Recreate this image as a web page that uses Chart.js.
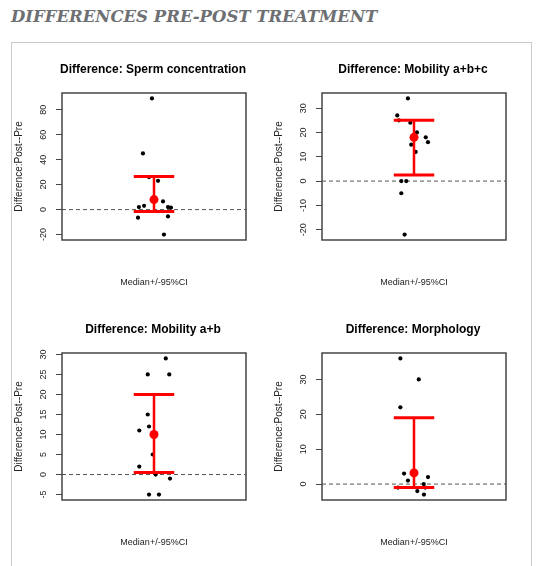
<!DOCTYPE html>
<html>
<head>
<meta charset="utf-8">
<script src="https://cdn.jsdelivr.net/npm/chart.js"></script>
<style>
  html, body { margin:0; padding:0; background:#fff; }
  body { width:537px; height:566px; overflow:hidden; position:relative; }
  #page-title { position:absolute; left:11px; top:6.5px; font-family:"DejaVu Serif", serif; font-style:italic; font-weight:bold;
                font-size:16.5px; line-height:20px; color:#6d6f73; white-space:nowrap; }
  #frame { position:absolute; left:11px; top:42px; width:519px; height:600px; border:1px solid #cbcbcb; border-bottom:none; }
  canvas { position:absolute; }
</style>
</head>
<body>
<div id="page-title">DIFFERENCES PRE-POST TREATMENT</div>
<div id="frame"></div>
<canvas id="c1" width="306" height="260" style="left:0px;top:40px;width:306px;height:260px"></canvas>
<canvas id="c2" width="306" height="260" style="left:260px;top:40px;width:306px;height:260px"></canvas>
<canvas id="c3" width="306" height="260" style="left:0px;top:300px;width:306px;height:260px"></canvas>
<canvas id="c4" width="306" height="260" style="left:260px;top:300px;width:306px;height:260px"></canvas>
<script>
// ---------- data ----------
const categories = ['Difference: Sperm concentration', 'Difference: Mobility a+b+c', 'Difference: Mobility a+b', 'Difference: Morphology'];
const yAxisTitle = 'Difference:Post--Pre';
const xAxisTitle = 'Median+/-95%CI';

// jittered horizontal positions (group centre = 1) and differences
const spermJitter = [0.989, 0.94, 0.973, 1.022, 1.049, 0.918, 0.946, 1.076, 1.092, 0.913, 1.076, 1.054];
const spermDiff   = [89, 45, 26, 23, 6.5, 2, 3, 2, 1.5, -6.5, -5.5, -20];
const spermStats  = [8, -1.5, 26.5];          // median, lower 95% CI, upper 95% CI
const spermTicks  = [-20, 0, 20, 40, 60, 80];

const mobAbcJitter = [0.967, 0.909, 0.918, 0.98, 1.016, 1.064, 1.076, 0.985, 1.009, 0.931, 0.958, 0.931, 0.949];
const mobAbcDiff   = [34, 27, 25, 24, 20, 18, 16, 15, 12, 0, 0, -5, -22];
const mobAbcStats  = [18, 2.5, 25];
const mobAbcTicks  = [-20, -10, 0, 10, 20, 30];

const mobAbJitter = [1.064, 0.966, 1.083, 0.966, 0.973, 0.92, 0.993, 0.92, 1.009, 1.087, 0.973, 1.027];
const mobAbDiff   = [29, 25, 25, 15, 12, 11, 5, 2, 0, -1, -5, -5];
const mobAbStats  = [10, 0.5, 20];
const mobAbTicks  = [-5, 0, 5, 10, 15, 20, 25, 30];

const morphJitter = [0.926, 1.026, 0.926, 0.946, 0.967, 1.076, 1.053, 0.913, 1.061, 1.018, 1.054];
const morphDiff   = [36, 30, 22, 3, 1, 2, 0, -1, -1, -2, -3];
const morphStats  = [3.2, -1, 19];
const morphTicks  = [0, 10, 20, 30];

// ---------- style ----------
const FONT = "'Liberation Sans', Arial, sans-serif";
const RED = '#ff0000';
const CAP = 0.11;           // half width of the CI caps, in x units
Chart.defaults.font.family = FONT;

const boxPlugin = {
  id: 'rbox',
  afterDraw(chart) {
    const { ctx, chartArea: a } = chart;
    ctx.save();
    ctx.strokeStyle = '#454545';
    ctx.lineWidth = 1.5;
    ctx.strokeRect(a.left, a.top, a.right - a.left, a.bottom - a.top);
    ctx.restore();
  }
};

function makeChart(id, title, xs, ys, stats, ticks, tickPad) {
  const [med, lo, hi] = stats;
  const dMin = Math.min(...ys), dMax = Math.max(...ys);
  const ext = (dMax - dMin) * 0.04;
  return new Chart(document.getElementById(id), {
    type: 'scatter',
    data: {
      datasets: [
        { label: 'Median', data: [{ x: 1, y: med }], pointRadius: 4.5, backgroundColor: RED, borderWidth: 0 },
        { label: 'Upper 95% CI', type: 'line', data: [{ x: 1 - CAP, y: hi }, { x: 1 + CAP, y: hi }],
          borderColor: RED, borderWidth: 3, pointRadius: 0, borderCapStyle: 'butt' },
        { label: 'Lower 95% CI', type: 'line', data: [{ x: 1 - CAP, y: lo }, { x: 1 + CAP, y: lo }],
          borderColor: RED, borderWidth: 3, pointRadius: 0, borderCapStyle: 'butt' },
        { label: '95% CI', type: 'line', data: [{ x: 1, y: lo }, { x: 1, y: hi }],
          borderColor: RED, borderWidth: 2.5, pointRadius: 0 },
        { label: 'Differences', data: xs.map((x, i) => ({ x: x, y: ys[i] })),
          pointRadius: 2.1, backgroundColor: '#000', borderWidth: 0 },
        { label: 'Zero', type: 'line', data: [{ x: 0.5, y: 0 }, { x: 1.5, y: 0 }],
          borderColor: '#555', borderWidth: 1, borderDash: [4, 3], pointRadius: 0 }
      ]
    },
    options: {
      responsive: false,
      animation: false,
      devicePixelRatio: 1,
      events: [],
      plugins: {
        legend: { display: false },
        tooltip: { enabled: false },
        title: { display: true, text: title, color: '#000',
                 font: { family: FONT, size: 12, weight: 'bold' }, padding: { top: 22, bottom: 16.6 } }
      },
      scales: {
        x: {
          type: 'linear', min: 0.5, max: 1.5, position: 'bottom',
          ticks: { display: false }, grid: { display: false }, border: { display: false },
          title: { display: true, text: xAxisTitle, color: '#222', font: { family: FONT, size: 9 },
                   padding: { top: 0, bottom: 11.6 } },
          afterFit: s => { s.height = 60; }
        },
        y: {
          type: 'linear', position: 'left', min: dMin - ext, max: dMax + ext,
          afterBuildTicks: s => { s.ticks = ticks.map(v => ({ value: v })); },
          ticks: { autoSkip: false, minRotation: 90, maxRotation: 90, crossAlign: 'center',
                   padding: tickPad, color: '#222', font: { family: FONT, size: 9 } },
          grid: { display: true, drawOnChartArea: false, drawTicks: true, tickLength: 6, color: '#454545' },
          border: { display: false },
          title: { display: true, text: yAxisTitle, color: '#222', font: { family: FONT, size: 10 },
                   padding: { top: 13, bottom: 0 } },
          afterFit: s => { s.width = 62; }
        },
        yR: {
          type: 'linear', position: 'right', display: true,
          ticks: { display: false }, grid: { display: false }, border: { display: false },
          afterFit: s => { s.width = 60; }
        }
      }
    },
    plugins: [boxPlugin]
  });
}

makeChart('c1', categories[0], spermJitter, spermDiff, spermStats, spermTicks, 6);
makeChart('c2', categories[1], mobAbcJitter, mobAbcDiff, mobAbcStats, mobAbcTicks, 6);
makeChart('c3', categories[2], mobAbJitter, mobAbDiff, mobAbStats, mobAbTicks, 7.5);
makeChart('c4', categories[3], morphJitter, morphDiff, morphStats, morphTicks, 7.5);
</script>
</body>
</html>
